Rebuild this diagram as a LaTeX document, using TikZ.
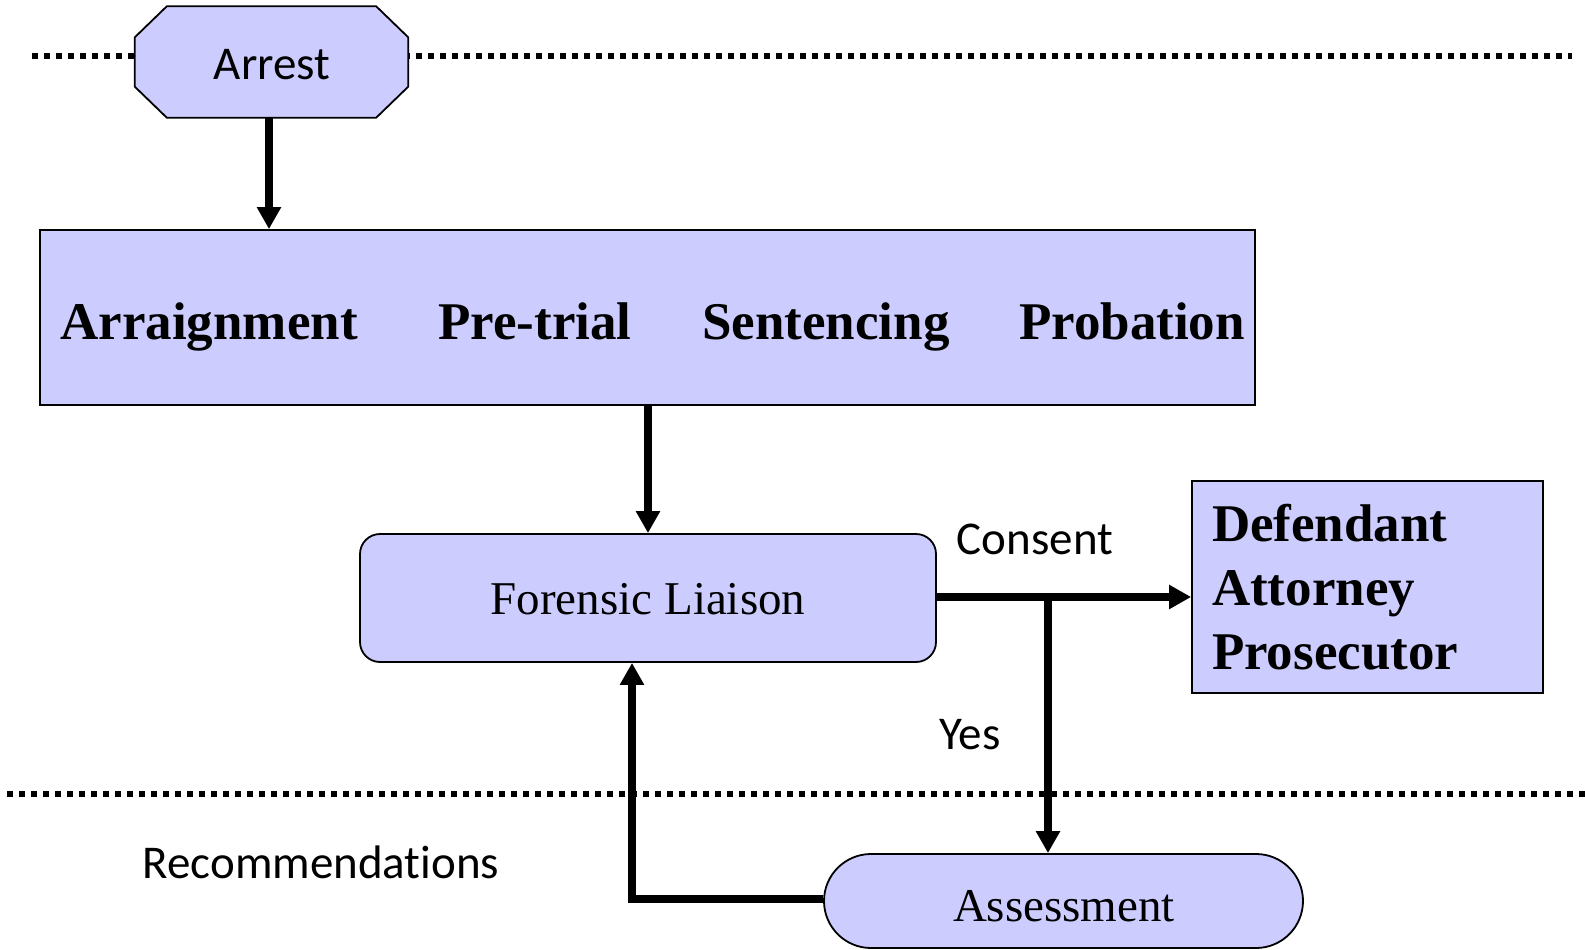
\documentclass[tikz,border=0pt]{standalone}
\usepackage{fontspec}
\setmainfont{Liberation Serif}
\newfontfamily\calib[Ligatures=NoCommon]{Carlito}
\usetikzlibrary{arrows.meta,shapes.misc}
\definecolor{lav}{HTML}{CCCCFF}
\tikzset{
  box/.style={draw=black, line width=1.8pt, fill=lav, inner sep=0pt},
  conn/.style={line width=7.5pt, -{Triangle[length=22pt,width=23pt]}},
  dotline/.style={line width=5.5pt, dash pattern=on 5.5pt off 6.5pt},
  sanslabel/.style={font=\calib\fontsize{47}{56}\selectfont, inner sep=0pt},
  bigbold/.style={font=\bfseries\fontsize{53}{64}\selectfont, inner sep=0pt, anchor=base},
}
\begin{document}
\begin{tikzpicture}[x=1pt,y=-1pt]
\useasboundingbox (0,0) rectangle (1585,950);
% dotted separators
\coordinate (t1) at (32,56);
\coordinate (t2) at (1572,56);
\coordinate (b1) at (7,794);
\coordinate (b2) at (1585,794);
\draw[dotline] (t1) -- (t2);
\draw[dotline] (b1) -- (b2);
% Arrest octagon
\node[minimum width=273pt, minimum height=111pt, inner sep=0pt] (arrest) at (271.5,62) {};
\filldraw[box] ([xshift=32pt]arrest.north west) -- ([xshift=-32pt]arrest.north east)
  -- ([yshift=-31pt]arrest.north east) -- ([yshift=31pt]arrest.south east)
  -- ([xshift=-32pt]arrest.south east) -- ([xshift=32pt]arrest.south west)
  -- ([yshift=31pt]arrest.south west) -- ([yshift=-31pt]arrest.north west) -- cycle;
\node[sanslabel, anchor=base] (arresttext) at (272,79) {Arrest};
% court stages
\node[box, minimum width=1215pt, minimum height=175pt] (court) at (647.5,317.5) {};
\node[bigbold] (arr) at (209,339) {Arraignment};
\node[bigbold] (pre) at (535,339) {Pre-trial};
\node[bigbold] (sen) at (826,339) {Sentencing};
\node[bigbold] (pro) at (1132,339) {Probation};
% forensic liaison
\node[box, rounded corners=20pt, minimum width=576pt, minimum height=128pt] (fl) at (648,598) {};
\node[font=\fontsize{47}{56}\selectfont, inner sep=0pt, anchor=base] (fltext) at (648,614) {Forensic Liaison};
% defendant box
\node[box, minimum width=351pt, minimum height=212pt, text width=311pt, align=left,
      font=\bfseries\fontsize{53}{64}\selectfont] (dap) at (1367.5,587)
      {Defendant\\Attorney\\Prosecutor};
% assessment
\node[box, rounded rectangle, minimum width=479pt, minimum height=94pt] (ass) at (1063.5,901) {};
\node[font=\fontsize{47}{56}\selectfont, inner sep=0pt, anchor=base] (asstext) at (1064,921) {Assessment};
% labels
\node[sanslabel] (consent) at (1035,539) {Consent};
\node[sanslabel] (yes) at (970,735) {Yes};
\node[sanslabel] (rec) at (321,862) {Recommendations};
% connectors
\draw[conn] (arrest.south -| 269,0) -- (court.north -| 269,0);
\draw[conn] (court.south -| fl.north) -- (fl.north);
\coordinate (split) at (1048,597);
\draw[conn] (fl.east |- split) -- (dap.west |- split);
\draw[conn] (split) -- (ass.north -| split);
\coordinate (turn) at (632,899);
\draw[conn, line join=miter] (ass.west |- turn) -- (turn) -- (fl.south -| turn);
\end{tikzpicture}
\end{document}
